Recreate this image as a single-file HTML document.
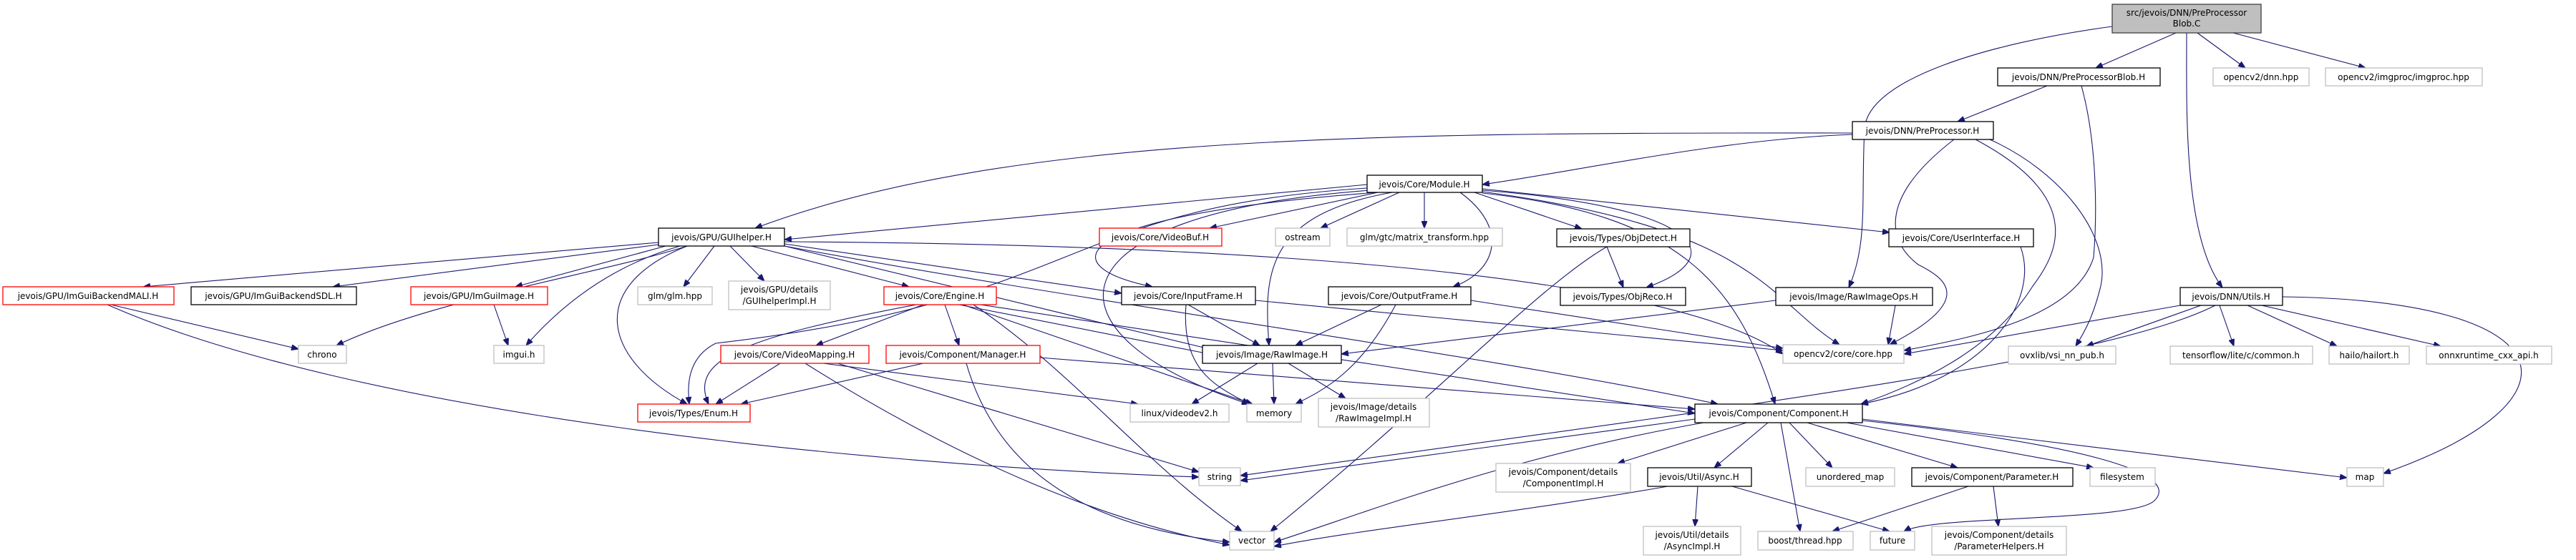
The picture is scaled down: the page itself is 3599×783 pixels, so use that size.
<!DOCTYPE html>
<html><head><meta charset="utf-8">
<style>
html,body{margin:0;padding:0;background:#fff;}
svg{display:block;}
text{font-family:"DejaVu Sans","Liberation Sans",sans-serif;font-size:12px;fill:#000;}
.b{fill:#fff;stroke:#000;stroke-width:1.3;}
.r{fill:#fff;stroke:#ff0000;stroke-width:1.3;}
.g{fill:#fff;stroke:#bfbfbf;stroke-width:1.3;}
.t{fill:#bfbfbf;stroke:#404040;stroke-width:1.3;}
.e{fill:none;stroke:#191970;stroke-width:1.1;}
</style></head><body>
<svg id="s" width="3599" height="783" viewBox="0 0 3599 783" xmlns="http://www.w3.org/2000/svg">
<defs><marker id="a" markerWidth="10" markerHeight="8" refX="10" refY="4" orient="auto" markerUnits="userSpaceOnUse"><path d="M0,0 L10,4 L0,8 z" fill="#191970" stroke="#191970"/></marker></defs>
<g id="edges"></g>
<g id="nodes">
<rect class="t" x="2951" y="6" width="208" height="40"/><text x="3055" y="22" text-anchor="middle">src/jevois/DNN/PreProcessor</text><text x="3055" y="37" text-anchor="middle">Blob.C</text>
<rect class="b" x="2791" y="95" width="227" height="25"/><text x="2904" y="112" text-anchor="middle">jevois/DNN/PreProcessorBlob.H</text>
<rect class="g" x="3092" y="95" width="134" height="25"/><text x="3159" y="112" text-anchor="middle">opencv2/dnn.hpp</text>
<rect class="g" x="3249" y="95" width="219" height="25"/><text x="3358" y="112" text-anchor="middle">opencv2/imgproc/imgproc.hpp</text>
<rect class="b" x="2588" y="170" width="197" height="25"/><text x="2686" y="187" text-anchor="middle">jevois/DNN/PreProcessor.H</text>
<rect class="b" x="1910" y="245" width="161" height="24"/><text x="1990" y="262" text-anchor="middle">jevois/Core/Module.H</text>
<rect class="b" x="920" y="319" width="176" height="25"/><text x="1008" y="336" text-anchor="middle">jevois/GPU/GUIhelper.H</text>
<rect class="r" x="1536" y="319" width="171" height="25"/><text x="1621" y="336" text-anchor="middle">jevois/Core/VideoBuf.H</text>
<rect class="g" x="1782" y="319" width="76" height="25"/><text x="1820" y="336" text-anchor="middle">ostream</text>
<rect class="g" x="1882" y="319" width="217" height="25"/><text x="1990" y="336" text-anchor="middle">glm/gtc/matrix_transform.hpp</text>
<rect class="b" x="2175" y="320" width="186" height="25"/><text x="2268" y="337" text-anchor="middle">jevois/Types/ObjDetect.H</text>
<rect class="b" x="2639" y="320" width="202" height="25"/><text x="2740" y="337" text-anchor="middle">jevois/Core/UserInterface.H</text>
<rect class="r" x="4" y="401" width="239" height="25"/><text x="123" y="418" text-anchor="middle">jevois/GPU/ImGuiBackendMALI.H</text>
<rect class="b" x="267" y="401" width="231" height="25"/><text x="382" y="418" text-anchor="middle">jevois/GPU/ImGuiBackendSDL.H</text>
<rect class="r" x="574" y="401" width="191" height="25"/><text x="669" y="418" text-anchor="middle">jevois/GPU/ImGuiImage.H</text>
<rect class="g" x="891" y="401" width="104" height="25"/><text x="943" y="418" text-anchor="middle">glm/glm.hpp</text>
<rect class="g" x="1018" y="393" width="142" height="40"/><text x="1089" y="409" text-anchor="middle">jevois/GPU/details</text><text x="1089" y="425" text-anchor="middle">/GUIhelperImpl.H</text>
<rect class="r" x="1235" y="401" width="157" height="25"/><text x="1313" y="418" text-anchor="middle">jevois/Core/Engine.H</text>
<rect class="b" x="1567" y="401" width="187" height="25"/><text x="1660" y="418" text-anchor="middle">jevois/Core/InputFrame.H</text>
<rect class="b" x="1856" y="401" width="199" height="25"/><text x="1955" y="418" text-anchor="middle">jevois/Core/OutputFrame.H</text>
<rect class="b" x="2180" y="402" width="175" height="25"/><text x="2267" y="419" text-anchor="middle">jevois/Types/ObjReco.H</text>
<rect class="b" x="2481" y="402" width="219" height="25"/><text x="2590" y="419" text-anchor="middle">jevois/Image/RawImageOps.H</text>
<rect class="b" x="3046" y="402" width="143" height="25"/><text x="3117" y="419" text-anchor="middle">jevois/DNN/Utils.H</text>
<rect class="g" x="417" y="483" width="67" height="25"/><text x="450" y="500" text-anchor="middle">chrono</text>
<rect class="g" x="690" y="483" width="70" height="25"/><text x="725" y="500" text-anchor="middle">imgui.h</text>
<rect class="r" x="1007" y="483" width="207" height="25"/><text x="1110" y="500" text-anchor="middle">jevois/Core/VideoMapping.H</text>
<rect class="r" x="1238" y="483" width="215" height="25"/><text x="1345" y="500" text-anchor="middle">jevois/Component/Manager.H</text>
<rect class="b" x="1680" y="483" width="194" height="25"/><text x="1777" y="500" text-anchor="middle">jevois/Image/RawImage.H</text>
<rect class="g" x="2491" y="482" width="169" height="26"/><text x="2575" y="499" text-anchor="middle">opencv2/core/core.hpp</text>
<rect class="g" x="2806" y="484" width="150" height="25"/><text x="2881" y="501" text-anchor="middle">ovxlib/vsi_nn_pub.h</text>
<rect class="g" x="3032" y="484" width="199" height="25"/><text x="3131" y="501" text-anchor="middle">tensorflow/lite/c/common.h</text>
<rect class="g" x="3254" y="484" width="112" height="25"/><text x="3310" y="501" text-anchor="middle">hailo/hailort.h</text>
<rect class="g" x="3390" y="484" width="175" height="25"/><text x="3477" y="501" text-anchor="middle">onnxruntime_cxx_api.h</text>
<rect class="r" x="891" y="565" width="157" height="25"/><text x="969" y="582" text-anchor="middle">jevois/Types/Enum.H</text>
<rect class="g" x="1579" y="565" width="138" height="25"/><text x="1648" y="582" text-anchor="middle">linux/videodev2.h</text>
<rect class="g" x="1742" y="565" width="76" height="25"/><text x="1780" y="582" text-anchor="middle">memory</text>
<rect class="g" x="1842" y="557" width="155" height="40"/><text x="1919" y="573" text-anchor="middle">jevois/Image/details</text><text x="1919" y="589" text-anchor="middle">/RawImageImpl.H</text>
<rect class="b" x="2368" y="565" width="234" height="26"/><text x="2485" y="582" text-anchor="middle">jevois/Component/Component.H</text>
<rect class="g" x="1675" y="654" width="58" height="25"/><text x="1704" y="671" text-anchor="middle">string</text>
<rect class="g" x="2090" y="648" width="188" height="40"/><text x="2184" y="664" text-anchor="middle">jevois/Component/details</text><text x="2184" y="680" text-anchor="middle">/ComponentImpl.H</text>
<rect class="b" x="2302" y="654" width="145" height="26"/><text x="2374" y="671" text-anchor="middle">jevois/Util/Async.H</text>
<rect class="g" x="2523" y="654" width="124" height="26"/><text x="2585" y="671" text-anchor="middle">unordered_map</text>
<rect class="b" x="2671" y="654" width="225" height="26"/><text x="2783" y="671" text-anchor="middle">jevois/Component/Parameter.H</text>
<rect class="g" x="2920" y="654" width="91" height="26"/><text x="2965" y="671" text-anchor="middle">filesystem</text>
<rect class="g" x="3279" y="654" width="51" height="26"/><text x="3304" y="671" text-anchor="middle">map</text>
<rect class="g" x="1718" y="743" width="62" height="26"/><text x="1749" y="760" text-anchor="middle">vector</text>
<rect class="g" x="2296" y="736" width="136" height="40"/><text x="2364" y="752" text-anchor="middle">jevois/Util/details</text><text x="2364" y="768" text-anchor="middle">/AsyncImpl.H</text>
<rect class="g" x="2456" y="743" width="133" height="26"/><text x="2522" y="760" text-anchor="middle">boost/thread.hpp</text>
<rect class="g" x="2613" y="743" width="62" height="26"/><text x="2644" y="760" text-anchor="middle">future</text>
<rect class="g" x="2699" y="736" width="188" height="40"/><text x="2793" y="752" text-anchor="middle">jevois/Component/details</text><text x="2793" y="768" text-anchor="middle">/ParameterHelpers.H</text>
</g>
</svg>
<script>
var E=[
"M3040,46 L2928,95","M3070,46 L3137,95","M3120,46 L3305,95",
"M3055,46 C3055,150 3050,330 3105,402",
"M2951,37 C2780,60 2610,110 2605,180 C2600,280 2610,340 2583,402",
"M2860,120 L2735,170",
"M2908,120 C2930,200 2930,300 2925,360 C2900,440 2770,470 2660,490",
"M2588,186 C1900,185 1400,190 1055,319",
"M2588,188 C2400,195 2200,240 2071,258",
"M2730,195 C2620,280 2640,340 2680,370 C2720,390 2760,420 2640,482",
"M2780,195 C2880,240 2950,330 2935,400 C2925,440 2915,460 2900,484",
"M2760,195 C2920,280 2870,360 2840,400 C2790,480 2700,530 2600,565",
"M1910,258 L1096,335","M1925,269 L1690,319","M1955,269 L1845,319","M1990,269 L1990,319",
"M1925,269 C1500,300 1460,370 1610,401",
"M2040,269 C2110,320 2090,380 2030,401",
"M1945,269 C1770,300 1765,380 1773,483",
"M1915,266 C1450,300 1450,470 1745,565",
"M1910,263 C1480,290 1520,420 1000,480 C960,500 960,540 963,565",
"M2060,269 L2210,320","M2071,266 C2380,290 2420,360 2300,402",
"M2071,264 L2640,325",
"M2071,268 C2460,320 2470,420 2570,482",
"M2071,270 C2350,300 2430,400 2480,565",
"M920,339 L200,401","M920,342 L465,401","M930,344 L720,401",
"M960,344 C850,380 600,420 470,483","M950,344 C860,370 790,420 735,483",
"M960,344 C820,400 840,500 960,565",
"M998,344 L955,401","M1020,344 L1068,393","M1050,344 L1270,401",
"M1096,341 L1567,410","M1096,344 L1690,488",
"M1096,338 C1500,340 2300,360 2491,495",
"M1096,344 C1500,420 2100,500 2400,565",
"M155,426 L417,488","M150,426 C500,580 1200,650 1675,667",
"M690,426 L710,483",
"M1280,426 C1050,470 960,500 990,565","M1290,426 L1140,483","M1320,426 L1340,483",
"M1340,426 L1690,495","M1345,426 L1750,565",
"M1360,426 C1500,520 1600,650 1735,743","M1370,426 L2368,578",
"M1090,508 L1000,565","M1150,508 L1590,565","M1125,508 C1350,650 1550,730 1718,762","M1170,508 L1675,660",
"M1290,508 L1035,565","M1453,500 L2368,572","M1350,508 C1400,680 1550,740 1718,758",
"M1660,426 L1760,483","M1657,426 C1650,520 1700,540 1745,565","M1754,420 L2491,490",
"M1930,426 L1810,483","M1950,426 C1900,520 1850,545 1810,565","M2055,420 L2491,487",
"M1757,508 L1665,565","M1778,508 L1780,565","M1800,508 L1880,557",
"M2245,345 L2268,402","M2245,345 C2150,400 2000,560 1775,743",
"M2481,420 L1874,495","M2648,427 L2638,482",
"M2823,345 C2850,420 2780,530 2600,565",
"M3046,427 L2660,495","M3075,427 L2915,484","M3101,427 L3121,484","M3140,427 L3265,484","M3160,427 L3410,484",
"M3189,415 C3590,420 3620,560 3330,662",
"M3095,427 C2950,500 2500,560 1733,665",
"M2368,586 L1733,672","M2380,591 C2100,640 1900,720 1780,758",
"M2440,591 L2260,648","M2470,591 L2395,654","M2488,591 L2515,743","M2500,591 L2560,654",
"M2525,591 L2735,654","M2580,591 L2925,654","M2602,586 L3279,668",
"M2602,588 C2900,620 3050,660 3010,700 C2980,730 2700,720 2660,743",
"M2330,680 C2100,720 1900,740 1780,764","M2372,680 L2368,736","M2420,680 L2640,743",
"M2750,680 L2560,743","M2785,680 L2792,736"
];
var g=document.getElementById('edges'),ns="http://www.w3.org/2000/svg";
E.forEach(function(d){var p=document.createElementNS(ns,'path');p.setAttribute('d',d);p.setAttribute('class','e');p.setAttribute('marker-end','url(#a)');g.appendChild(p);});
</script>
</body></html>
